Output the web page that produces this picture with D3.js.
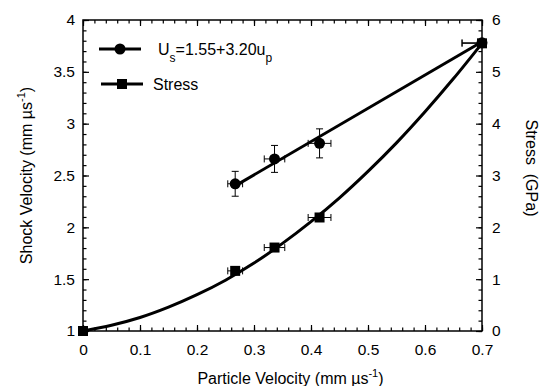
<!DOCTYPE html>
<html>
<head>
<meta charset="utf-8">
<script src="https://cdn.jsdelivr.net/npm/d3@7"></script>
<style>
  body { margin: 0; background: #fff; }
  svg { font-family: "Liberation Sans", Arial, sans-serif; }
</style>
</head>
<body>
<div class="chart"></div>
<script>
// measured points (particle velocity, mm/us)
var upData = [0.267, 0.336, 0.415, 0.700];
var upErr = [0.013, 0.018, 0.020, 0.035];
var usData = [2.42, 2.66, 2.81, 3.78];
var usErr = [0.12, 0.13, 0.14, 0];
var stressData = [1.16, 1.61, 2.19, 5.55];

// fit line Us = 1.55 + 3.20 up, drawn between its end points
var fitUp = [0.267, 0.700];
var fitUs = [2.40, 3.79];

// stress curve
var curveUp = [0, 0.05, 0.1, 0.15, 0.2, 0.25, 0.3, 0.35, 0.4, 0.45, 0.5, 0.55, 0.6, 0.65, 0.7];
var curveStress = [0, 0.11, 0.26, 0.46, 0.70, 0.98, 1.31, 1.69, 2.11, 2.57, 3.08, 3.63, 4.23, 4.87, 5.55];

var xTicks = [0, 0.1, 0.2, 0.3, 0.4, 0.5, 0.6, 0.7];
var yLeftTicks = [1, 1.5, 2, 2.5, 3, 3.5, 4];
var yRightTicks = [0, 1, 2, 3, 4, 5, 6];

function init() {
  var w = 544, h = 386;
  var left = 83, right = 482, top = 20, bottom = 331;

  var svg = d3.select(".chart").append("svg")
    .attr("width", w)
    .attr("height", h);

  var xScale = d3.scaleLinear().domain([0, 0.7]).range([left, right]);
  var yLeft = d3.scaleLinear().domain([1, 4]).range([bottom, top]);
  var yRight = d3.scaleLinear().domain([0, 6]).range([bottom, top]);

  var xMinor = d3.range(0, 0.7001, 0.02);
  var yLMinor = d3.range(1, 4.001, 0.1);
  var yRMinor = d3.range(0, 6.001, 0.2);

  function styleAxis(g) {
    g.select(".domain").remove();
    g.selectAll("line").attr("stroke", "#000").attr("stroke-width", 1.2);
    g.selectAll("text").style("font-size", "15.5px").attr("fill", "#000");
  }

  // minor ticks
  svg.append("g").attr("transform", "translate(0," + bottom + ")")
    .call(d3.axisBottom(xScale).tickValues(xMinor).tickSize(-3.5).tickFormat(""))
    .call(styleAxis);
  svg.append("g").attr("transform", "translate(0," + top + ")")
    .call(d3.axisTop(xScale).tickValues(xMinor).tickSize(-3.5).tickFormat(""))
    .call(styleAxis);
  svg.append("g").attr("transform", "translate(" + left + ",0)")
    .call(d3.axisLeft(yLeft).tickValues(yLMinor).tickSize(-3.5).tickFormat(""))
    .call(styleAxis);
  svg.append("g").attr("transform", "translate(" + right + ",0)")
    .call(d3.axisRight(yRight).tickValues(yRMinor).tickSize(-3.5).tickFormat(""))
    .call(styleAxis);

  // major ticks and labels
  svg.append("g").attr("transform", "translate(0," + bottom + ")")
    .call(d3.axisBottom(xScale).tickValues(xTicks).tickSize(-6).tickPadding(13)
      .tickFormat(function(d) { return d === 0 ? "0" : d3.format(".1f")(d); }))
    .call(styleAxis);
  svg.append("g").attr("transform", "translate(0," + top + ")")
    .call(d3.axisTop(xScale).tickValues(xTicks).tickSize(-6).tickFormat(""))
    .call(styleAxis);
  svg.append("g").attr("transform", "translate(" + left + ",0)")
    .call(d3.axisLeft(yLeft).tickValues(yLeftTicks).tickSize(-6).tickPadding(8)
      .tickFormat(function(d) { return String(d); }))
    .call(styleAxis);
  svg.append("g").attr("transform", "translate(" + right + ",0)")
    .call(d3.axisRight(yRight).tickValues(yRightTicks).tickSize(-6).tickPadding(10)
      .tickFormat(function(d) { return String(d); }))
    .call(styleAxis);

  // frame
  svg.append("rect")
    .attr("x", left).attr("y", top)
    .attr("width", right - left).attr("height", bottom - top)
    .attr("fill", "none").attr("stroke", "#000").attr("stroke-width", 1.5);

  svg.append("clipPath").attr("id", "plotClip")
    .append("rect")
    .attr("x", left).attr("y", top)
    .attr("width", right - left).attr("height", bottom - top);

  // stress curve
  svg.append("path")
    .datum(d3.zip(curveUp, curveStress))
    .attr("fill", "none").attr("stroke", "#000").attr("stroke-width", 3)
    .attr("d", d3.line()
      .x(function(d) { return xScale(d[0]); })
      .y(function(d) { return yRight(d[1]); })
      .curve(d3.curveCatmullRom));

  // Us fit line
  svg.append("path")
    .datum(d3.zip(fitUp, fitUs))
    .attr("fill", "none").attr("stroke", "#000").attr("stroke-width", 3)
    .attr("d", d3.line()
      .x(function(d) { return xScale(d[0]); })
      .y(function(d) { return yLeft(d[1]); }));

  // error bars
  var eb = svg.append("g").attr("clip-path", "url(#plotClip)")
    .attr("stroke", "#000").attr("stroke-width", 1).attr("fill", "none");
  var cap = 3.5;
  upData.forEach(function(u, i) {
    var px0 = xScale(u - upErr[i]), px1 = xScale(u + upErr[i]);
    [yLeft(usData[i]), yRight(stressData[i])].forEach(function(py) {
      eb.append("line").attr("x1", px0).attr("x2", px1).attr("y1", py).attr("y2", py);
      eb.append("line").attr("x1", px0).attr("x2", px0).attr("y1", py - cap).attr("y2", py + cap);
      eb.append("line").attr("x1", px1).attr("x2", px1).attr("y1", py - cap).attr("y2", py + cap);
    });
    if (usErr[i] > 0) {
      var px = xScale(u);
      var y0 = yLeft(usData[i] - usErr[i]), y1 = yLeft(usData[i] + usErr[i]);
      eb.append("line").attr("x1", px).attr("x2", px).attr("y1", y0).attr("y2", y1);
      eb.append("line").attr("x1", px - cap).attr("x2", px + cap).attr("y1", y0).attr("y2", y0);
      eb.append("line").attr("x1", px - cap).attr("x2", px + cap).attr("y1", y1).attr("y2", y1);
    }
  });

  // markers
  var sq = 10;
  svg.selectAll(".sq")
    .data(d3.zip([0].concat(upData), [0].concat(stressData)))
    .enter().append("rect")
    .attr("x", function(d) { return xScale(d[0]) - sq / 2; })
    .attr("y", function(d) { return yRight(d[1]) - sq / 2; })
    .attr("width", sq).attr("height", sq).attr("fill", "#000");

  svg.selectAll(".dot")
    .data(d3.zip(upData, usData))
    .enter().append("circle")
    .attr("cx", function(d) { return xScale(d[0]); })
    .attr("cy", function(d) { return yLeft(d[1]); })
    .attr("r", 5.5).attr("fill", "#000");

  // legend
  var lg = svg.append("g");
  lg.append("line").attr("x1", 99).attr("x2", 141).attr("y1", 49).attr("y2", 49)
    .attr("stroke", "#000").attr("stroke-width", 3);
  lg.append("circle").attr("cx", 120).attr("cy", 49).attr("r", 5.5).attr("fill", "#000");
  var t1 = lg.append("text").attr("x", 158).attr("y", 55).style("font-size", "16px");
  t1.append("tspan").text("U");
  t1.append("tspan").attr("dy", 7).style("font-size", "12px").text("s");
  t1.append("tspan").attr("dy", -7).text("=1.55+3.20u");
  t1.append("tspan").attr("dy", 7).style("font-size", "12px").text("p");

  lg.append("line").attr("x1", 101).attr("x2", 143).attr("y1", 84).attr("y2", 84)
    .attr("stroke", "#000").attr("stroke-width", 3);
  lg.append("rect").attr("x", 122 - sq / 2).attr("y", 84 - sq / 2)
    .attr("width", sq).attr("height", sq).attr("fill", "#000");
  lg.append("text").attr("x", 153).attr("y", 90).style("font-size", "16px").text("Stress");

  // axis titles
  var xt = svg.append("text")
    .attr("x", (left + right) / 2 + 8).attr("y", 384)
    .attr("text-anchor", "middle").style("font-size", "16px");
  xt.append("tspan").text("Particle Velocity (mm µs");
  xt.append("tspan").attr("dy", -7).style("font-size", "11px").text("-1");
  xt.append("tspan").attr("dy", 7).text(")");

  var yt = svg.append("text")
    .attr("transform", "translate(32," + ((top + bottom) / 2) + ") rotate(-90)")
    .attr("text-anchor", "middle").style("font-size", "16px");
  yt.append("tspan").text("Shock Velocity (mm µs");
  yt.append("tspan").attr("dy", -7).style("font-size", "11px").text("-1");
  yt.append("tspan").attr("dy", 7).text(")");

  svg.append("text")
    .attr("transform", "translate(526,168) rotate(90)")
    .attr("text-anchor", "middle").style("font-size", "16px")
    .attr("xml:space", "preserve")
    .text("Stress  (GPa)");
}
window.onload = init;
</script>
</body>
</html>
